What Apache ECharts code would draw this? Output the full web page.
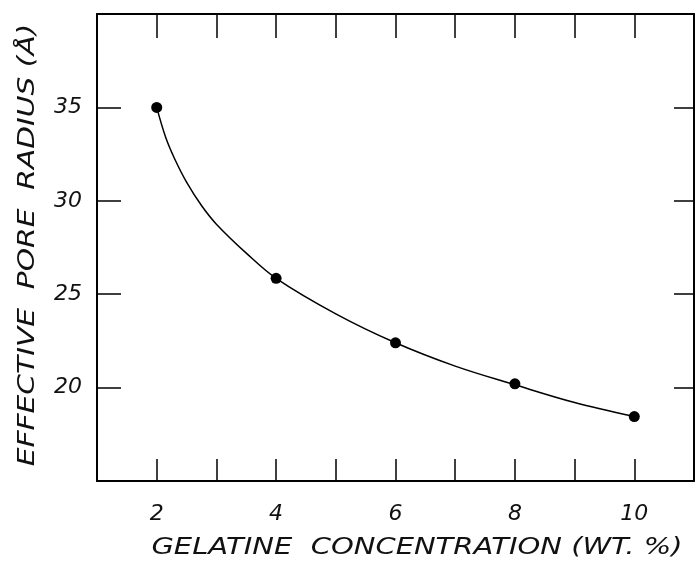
<!DOCTYPE html>
<html>
<head>
<meta charset="utf-8">
<script src="https://cdn.jsdelivr.net/npm/echarts@6/dist/echarts.min.js"></script>
<style>html,body{margin:0;padding:0;background:#fff}#c{width:697px;height:562px}</style>
</head>
<body>
<div id="c"></div>
<script>
// Measured points (gelatine concentration wt.%, effective pore radius Å)
const concentration = [2, 4, 6, 8, 10];
const poreRadius = [35.0, 25.85, 22.4, 20.2, 18.45];
// Hand-drawn fitted curve
const curveX = [2, 2.15, 2.3, 2.5, 2.75, 3, 3.5, 4, 5, 6, 7, 8, 9, 10];
const curveY = [35, 33.4, 32.25, 31.0, 29.75, 28.75, 27.2, 25.85, 23.95, 22.4, 21.15, 20.15, 19.2, 18.45];
const xTickLabels = [2, 4, 6, 8, 10];
const yTickLabels = [20, 25, 30, 35];
const xTitle = 'GELATINE  CONCENTRATION (WT. %)';
const yTitle = 'EFFECTIVE  PORE  RADIUS (Å)';

const font = 'DejaVu Sans';
const chart = echarts.init(document.getElementById('c'), null, {renderer: 'canvas'});
const lineStyle = {color: '#000', width: 2};
const tickStyle = {color: '#000', width: 1.5};
const titleFont = 'italic 23px "DejaVu Sans"';

chart.setOption({
  animation: false,
  backgroundColor: '#fff',
  grid: {left: 97, top: 14, right: 2, bottom: 81},
  graphic: [{
    type: 'text', x: 417, y: 548, scaleX: 1.26,
    style: {text: xTitle, font: titleFont, fill: '#111', align: 'center', verticalAlign: 'middle'}
  }, {
    type: 'text', x: 28, y: 245, rotation: Math.PI / 2, scaleX: 1.29,
    style: {text: yTitle, font: titleFont, fill: '#111', align: 'center', verticalAlign: 'middle'}
  }],
  xAxis: [{
    type: 'value', position: 'bottom', min: 1, max: 11, interval: 1,
    axisLine: {show: true, lineStyle},
    axisTick: {show: true, inside: true, length: 22, lineStyle: tickStyle},
    splitLine: {show: false},
    axisLabel: {
      margin: 22, fontSize: 22, fontFamily: font, fontStyle: 'italic', color: '#111',
      formatter: v => xTickLabels.includes(v) ? String(v) : ''
    }
  }, {
    type: 'value', position: 'top', min: 1, max: 11, interval: 1,
    axisLine: {show: true, lineStyle},
    axisTick: {show: true, inside: true, length: 24, lineStyle: tickStyle},
    splitLine: {show: false},
    axisLabel: {show: false}
  }],
  yAxis: [{
    type: 'value', position: 'left', min: 15, max: 40, interval: 5,
    axisLine: {show: true, lineStyle},
    axisTick: {show: true, inside: true, length: 24, lineStyle: tickStyle},
    splitLine: {show: false},
    axisLabel: {
      margin: 15, fontSize: 22, fontFamily: font, fontStyle: 'italic', color: '#111',
      formatter: v => yTickLabels.includes(v) ? String(v) : ''
    }
  }, {
    type: 'value', position: 'right', min: 15, max: 40, interval: 5,
    axisLine: {show: true, lineStyle},
    axisTick: {show: true, inside: true, length: 20, lineStyle: tickStyle},
    splitLine: {show: false},
    axisLabel: {show: false}
  }],
  series: [{
    type: 'line', xAxisIndex: 0, yAxisIndex: 0,
    data: curveX.map((x, i) => [x, curveY[i]]),
    smooth: 0.35, showSymbol: false, symbol: 'none',
    lineStyle: {color: '#000', width: 1.5}, z: 2
  }, {
    type: 'scatter', xAxisIndex: 0, yAxisIndex: 0,
    data: concentration.map((x, i) => [x, poreRadius[i]]),
    symbol: 'circle', symbolSize: 11,
    itemStyle: {color: '#000', opacity: 1}, z: 3
  }]
});
</script>
</body>
</html>
